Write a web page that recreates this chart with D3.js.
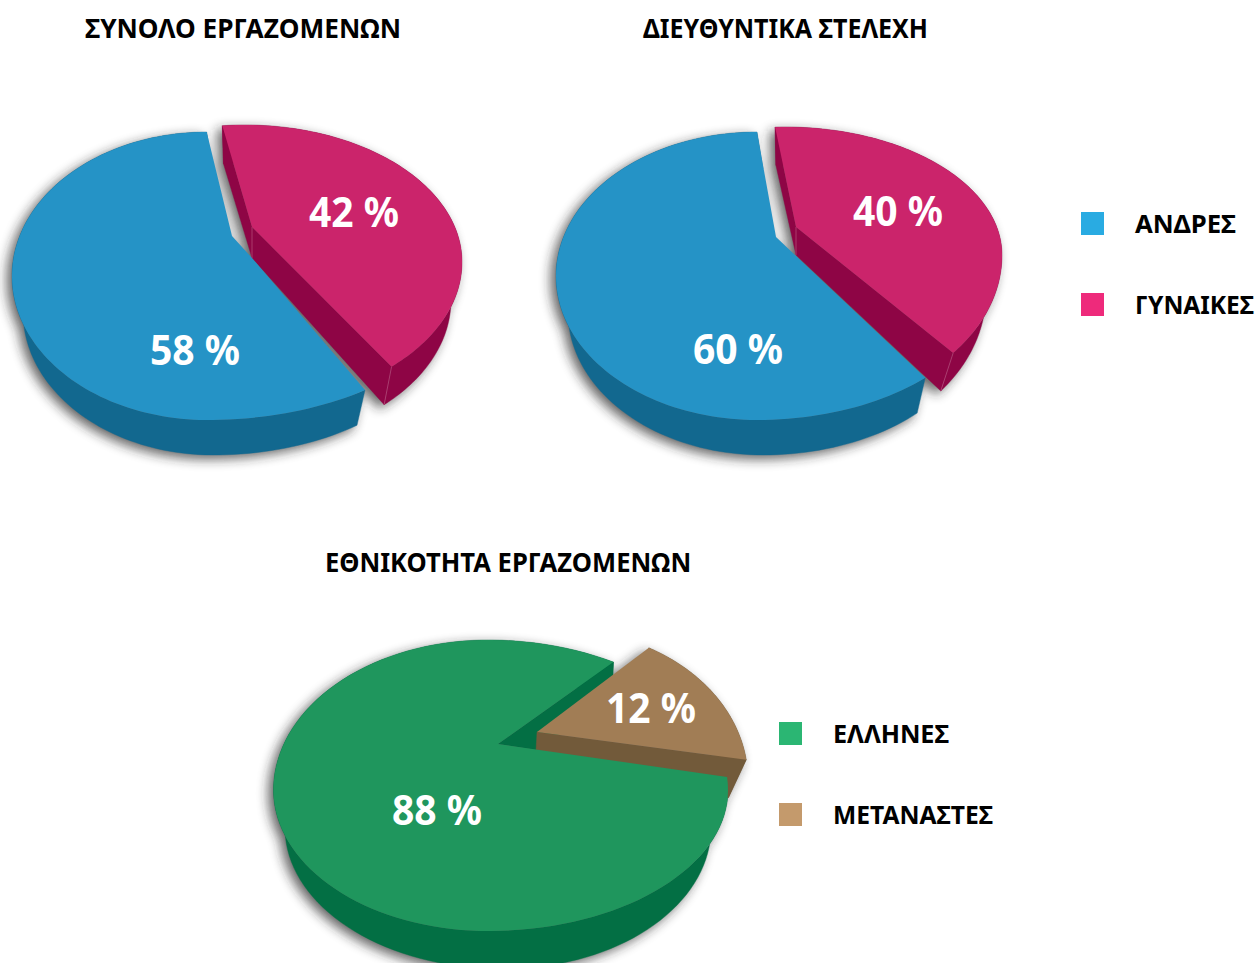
<!DOCTYPE html>
<html>
<head>
<meta charset="utf-8">
<script src="https://cdn.jsdelivr.net/npm/d3@7/dist/d3.min.js"></script>
<style>html,body{margin:0;padding:0;background:#fff}svg{display:block}</style>
</head>
<body>
<svg id="chart" width="1257" height="963"></svg>
<script>
// ---- data ----
const genderCategories = ["ΑΝΔΡΕΣ", "ΓΥΝΑΙΚΕΣ"];
const originCategories = ["ΕΛΛΗΝΕΣ", "ΜΕΤΑΝΑΣΤΕΣ"];
const allStaffShares = [58, 42];
const managerShares = [60, 40];
const originShares = [88, 12];
const titles = ["ΣΥΝΟΛΟ ΕΡΓΑΖΟΜΕΝΩΝ", "ΔΙΕΥΘΥΝΤΙΚΑ ΣΤΕΛΕΧΗ", "ΕΘΝΙΚΟΤΗΤΑ ΕΡΓΑΖΟΜΕΝΩΝ"];

// ---- styling & geometry ----
const FONT = "'Noto Sans','Open Sans',sans-serif";
const colors = {
  blue: {top:"#2593C6", wall:"#12688F", key:"#29ABE2"},
  pink: {top:"#CB246B", wall:"#8E0545", key:"#EE2A7B", seam:"#B8507F"},
  green:{top:"#1F965D", wall:"#036F44", key:"#2BB673"},
  brown:{top:"#A17D55", wall:"#725A3A", key:"#C49A6C"}
};
const ell = (cx,cy,rxL,rxR,ryT,ryB)=>({cx,cy,rxL,rxR,ryT,ryB});

const pies = [
  {values:allStaffShares, slices:[
    {c:"blue", start:142.4, k:3.75,
     top:ell(207,276,195,259,144,144), base:ell(213,312,190,236,143,143),
     apex:[[232,236],[252,258]], apexBase:[252,258], walls:[], label:[195,365]},
    {c:"pink", start:-6, k:3.417,
     top:ell(245,262,217,217,137,142), base:ell(245,300,206,206,137,142),
     apex:[[252,227]], apexBase:[252,258], walls:["start","end"], label:[354,227]}
  ]},
  {values:managerShares, slices:[
    {c:"blue", start:135, k:3.75,
     top:ell(757,276,201,238,144,144), base:ell(763,312,195,218,143,143),
     apex:[[776,237],[795,255]], apexBase:[795,255], walls:[], label:[738,364]},
    {c:"pink", start:-2.6, k:3.295,
     top:ell(785,255,217,217,128,155), base:ell(785,293,201,201,128,155),
     apex:[[796,227]], apexBase:[796,255], walls:["start","end"], label:[898,226]}
  ]},
  {values:originShares, slices:[
    {c:"green", start:85, k:3.483,
     top:ell(488,790,214.5,240,150,141), base:ell(503,828,218,208,150,141),
     apex:[[498,744]], apexBase:[537,750], walls:["end"], label:[437,825]},
    {c:"brown", start:28.2, k:4.5,
     top:ell(560,780,188,188,150,150), base:ell(560,818,170,170,150,150),
     apex:[[537,732]], apexBase:[536,750], walls:["end"], label:[651,723]}
  ]}
];

const titleBoxes = [[85,401,38],[643,928,38],[325,691,572]];
const legends = [
  {names:genderCategories, keys:["blue","pink"], x:1081, tx:1135, ys:[212,293], ends:[1236,1254]},
  {names:originCategories, keys:["green","brown"], x:779, tx:833, ys:[722,803], ends:[949,993]}
];

// ---- drawing ----
const svg = d3.select("#chart");
const defs = svg.append("defs");
const f = defs.append("filter").attr("id","blur").attr("filterUnits","userSpaceOnUse")
  .attr("x",0).attr("y",0).attr("width",1257).attr("height",963);
f.append("feGaussianBlur").attr("stdDeviation",6);

const rad = d3.scaleLinear().domain([0,360]).range([0,2*Math.PI]);
const line = d3.line();
const onEll = (e,deg)=>{
  const t = rad(deg), s = Math.sin(t), c = Math.cos(t);
  return [e.cx + s*(s>=0?e.rxR:e.rxL), e.cy - c*(c>=0?e.ryT:e.ryB)];
};
const arcPts = (e,a,b)=>d3.range(0,121).map(i=>onEll(e,a+(b-a)*i/120));

pies.forEach(p=>{
  const g = svg.append("g");
  const shadowLayer = g.append("g").attr("filter","url(#blur)").attr("opacity",0.7);
  const wallLayer = g.append("g");
  const topLayer = g.append("g");
  const labelLayer = g.append("g");

  p.slices.forEach((s,i)=>{
    const value = p.values[i];
    const sweep = d3.scaleLinear().domain([0,100]).range([0,100*s.k]);
    const a0 = s.start, a1 = s.start + sweep(value);
    const col = colors[s.c];
    const topArc = arcPts(s.top,a0,a1);
    const baseArc = arcPts(s.base,a0,a1);
    const topShape = line(topArc.concat(s.apex)) + "Z";
    const outerWall = line(topArc.concat(baseArc.slice().reverse())) + "Z";
    const apexTop = s.apex[s.apex.length-1];

    const wallPaths = [outerWall];
    const seams = [];
    s.walls.forEach(w=>{
      const d = w==="start" ? a0 : a1;
      const T = onEll(s.top,d), B = onEll(s.base,d);
      wallPaths.push(line([apexTop,T,B,s.apexBase])+"Z");
      seams.push([T,B]);
    });
    if (s.apexBase[0]!==apexTop[0] || s.apexBase[1]!==apexTop[1]) seams.push([apexTop,s.apexBase]);

    wallLayer.selectAll(null).data(wallPaths).join("path")
      .attr("d",d=>d).attr("fill",col.wall).attr("stroke",col.wall).attr("stroke-width",0.4);
    if (col.seam) {
      const tipSeam = seams.filter((_,j)=>j===seams.length-2 || j===seams.length-1);
      wallLayer.selectAll(null).data(tipSeam).join("path")
        .attr("d",d=>line(d)).attr("stroke",col.seam).attr("stroke-width",0.7).attr("fill","none");
    }
    shadowLayer.selectAll(null).data(wallPaths.concat([topShape])).join("path")
      .attr("d",d=>d).attr("fill","#222").attr("transform","translate(-5,4)");
    topLayer.append("path").attr("d",topShape).attr("fill",col.top);

    const name = (p.values===originShares?originCategories:genderCategories)[i];
    labelLayer.append("text")
      .attr("x",s.label[0]-45).attr("y",s.label[1])
      .attr("textLength",90).attr("lengthAdjust","spacingAndGlyphs")
      .attr("font-family",FONT).attr("font-weight",700).attr("font-size",41)
      .attr("fill","#fff").attr("data-cat",name).text(value+" %");
  });
});

titles.forEach((t,i)=>{
  const [x0,x1,y]=titleBoxes[i];
  svg.append("text").attr("x",x0).attr("y",y)
    .attr("textLength",x1-x0).attr("lengthAdjust","spacingAndGlyphs")
    .attr("font-family",FONT).attr("font-weight",700).attr("font-size",26)
    .attr("fill","#000").text(t);
});

legends.forEach(l=>{
  l.names.forEach((n,i)=>{
    svg.append("rect").attr("x",l.x).attr("y",l.ys[i]).attr("width",23).attr("height",23)
      .attr("fill",colors[l.keys[i]].key);
    svg.append("text").attr("x",l.tx).attr("y",l.ys[i]+21)
      .attr("textLength",l.ends[i]-l.tx).attr("lengthAdjust","spacingAndGlyphs")
      .attr("font-family",FONT).attr("font-weight",700).attr("font-size",25)
      .attr("fill","#000").text(n);
  });
});
</script>
</body>
</html>
